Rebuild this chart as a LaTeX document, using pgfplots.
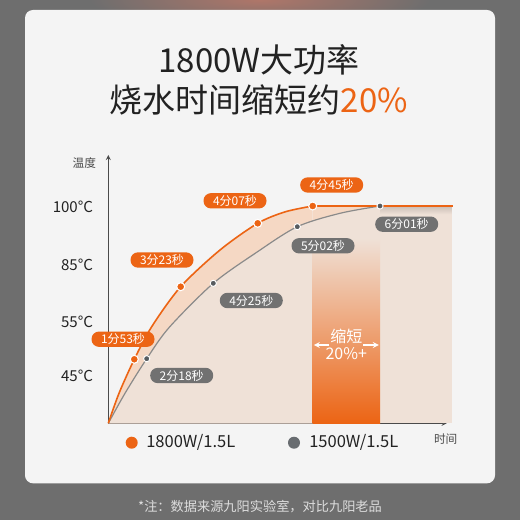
\documentclass[border=0pt]{standalone}
\usepackage{pgfplots}
\pgfplotsset{compat=1.18}
\usepackage{fontspec}
\setmainfont{Noto Sans CJK SC}
\definecolor{bg}{HTML}{6E6E6E}
\definecolor{panel}{HTML}{F4F4F4}
\definecolor{org}{HTML}{EC6414}
\definecolor{pillg}{HTML}{717171}
\definecolor{lineg}{HTML}{8A8A8A}
\definecolor{dotg}{HTML}{575C60}
\definecolor{fillg}{HTML}{EFE1D7}
\definecolor{fillo}{HTML}{F5D8C4}
\definecolor{axg}{HTML}{4A4A4A}
\definecolor{txt}{HTML}{222222}
\definecolor{foot}{HTML}{DDDDDD}
\tikzset{pill/.style={fill=#1, text=white, rounded corners=5.6pt, minimum width=47.25pt, minimum height=11.5pt, inner sep=0pt, font=\fontsize{9}{10}\selectfont}}
\begin{document}
\begin{tikzpicture}
\begin{scope}[x=0.75pt,y=-0.75pt]
\path[use as bounding box] (0,0) rectangle (520,520);
\fill[bg] (0,0) rectangle (520,520);
\begin{scope}
\clip (0,0) rectangle (520,12);
\shade[inner color={rgb,255:red,175;green,118;blue,105}, outer color=bg] (260,0) ellipse [x radius=170, y radius=28];
\end{scope}
\fill[panel, rounded corners=6pt] (25,10) rectangle (495,483.3);
\node[text=txt, font=\fontsize{24.75}{28}\selectfont] at (259,60) {1800W大功率};
\node[text=txt, font=\fontsize{24.75}{28}\selectfont] at (259,100) {烧水时间缩短约\textcolor{org}{20\%}};
\end{scope}
\begin{axis}[at={(81.225pt,-317.475pt)}, anchor=south west, scale only axis,
  width=253.8pt, height=201.225pt, xmin=0, xmax=338.4, ymin=0, ymax=268.3,
  axis lines=left, axis line style={draw=axg, line width=0.7pt, -stealth},
  xtick=\empty, ytick={47.3,101,158.3,216},
  yticklabels={\mbox{45°C},\mbox{55°C},\mbox{85°C},\mbox{100°C}},
  major tick length=0pt,
  yticklabel style={font=\fontsize{11.3}{13}\selectfont, text=txt, inner sep=0pt, xshift=-11.25pt},
  clip=false]
\addplot[draw=none, fill=fillo, smooth] coordinates {(0,0) (10.7,30) (26,64) (43.4,96.6) (72.4,136.6) (111.7,173.3) (149.4,200) (177,211.5) (204.4,217.3)} \closedcycle;
\addplot[draw=none, fill=fillo] coordinates {(204.4,217.3) (343.4,217.3)} \closedcycle;
\addplot[draw=none, fill=fillg, smooth] coordinates {(0,0) (16.7,30) (38.4,64.6) (61,96) (105,140) (148.4,171) (189,196.6) (231.7,210) (271.7,217.3)} \closedcycle;
\addplot[draw=none, fill=fillg] coordinates {(271.7,216.5) (343.4,216.5)} \closedcycle;
\addplot[draw=none, top color=black!14!fillg, bottom color=fillg] coordinates {(271.7,216.5) (343.4,216.5)} -- (axis cs:343.4,209) -- (axis cs:271.7,209) -- cycle;
\addplot[draw=none, top color=fillg, middle color=org!55!fillg, bottom color=org] coordinates {(204.4,185) (271.7,185)} \closedcycle;
\addplot[lineg, line width=0.9pt, smooth] coordinates {(0,0) (16.7,30) (38.4,64.6) (61,96) (105,140) (148.4,171) (189,196.6) (231.7,210) (271.7,217.3)};
\addplot[org, line width=1.2pt, smooth] coordinates {(0,0) (10.7,30) (26,64) (43.4,96.6) (72.4,136.6) (111.7,173.3) (149.4,200) (177,211.5) (204.4,217.3)};
\addplot[org, line width=1.2pt] coordinates {(204.4,217.3) (345,217.3)};
\addplot[only marks, mark=*, mark size=3pt, mark options={fill=org, draw=white, line width=0.8pt}] coordinates {(26,64) (72.4,136.6) (149.4,200) (204.4,217.3)};
\addplot[only marks, mark=*, mark size=2.3pt, mark options={fill=dotg, draw=white, line width=0.7pt}] coordinates {(38.4,64.6) (105,140) (189,196.6) (271.7,217.3)};
\node[pill=org] at (axis cs:14.7,84.1) {1分53秒};
\node[pill=org] at (axis cs:53.7,163.3) {3分23秒};
\node[pill=org] at (axis cs:126.7,222.5) {4分07秒};
\node[pill=org] at (axis cs:223.4,238.3) {4分45秒};
\node[pill=pillg] at (axis cs:73.4,47.8) {2分18秒};
\node[pill=pillg] at (axis cs:143,122.8) {4分25秒};
\node[pill=pillg] at (axis cs:214.7,177.5) {5分02秒};
\node[pill=pillg] at (axis cs:298.4,199.1) {6分01秒};
\node[text=white, font=\fontsize{12}{13}\selectfont] at (axis cs:238,86.6) {缩短};
\node[text=white, font=\fontsize{12}{13}\selectfont] at (axis cs:238,69.3) {20\%+};
\draw[white, line width=1pt, -stealth] (axis cs:221,78.3) -- (axis cs:205.5,78.3);
\draw[white, line width=1pt, -stealth] (axis cs:255,78.3) -- (axis cs:270.5,78.3);
\end{axis}
\begin{scope}[x=0.75pt,y=-0.75pt]
\node[text=axg, font=\fontsize{8.75}{10}\selectfont] at (84.3,162.7) {温度};
\node[text=axg, font=\fontsize{8.75}{10}\selectfont] at (445.7,438.7) {时间};
\fill[org] (131.7,442.7) circle (6);
\node[anchor=west, text=txt, font=\fontsize{12.4}{14}\selectfont, inner sep=0pt] at (146,442.7) {1800W/1.5L};
\fill[dotg!90!white] (294,442.7) circle (6);
\node[anchor=west, text=txt, font=\fontsize{12.4}{14}\selectfont, inner sep=0pt] at (309,442.7) {1500W/1.5L};
\node[text=foot, font=\fontsize{9.9}{11}\selectfont] at (260,507) {*注：数据来源九阳实验室，对比九阳老品};
\end{scope}
\end{tikzpicture}
\end{document}
